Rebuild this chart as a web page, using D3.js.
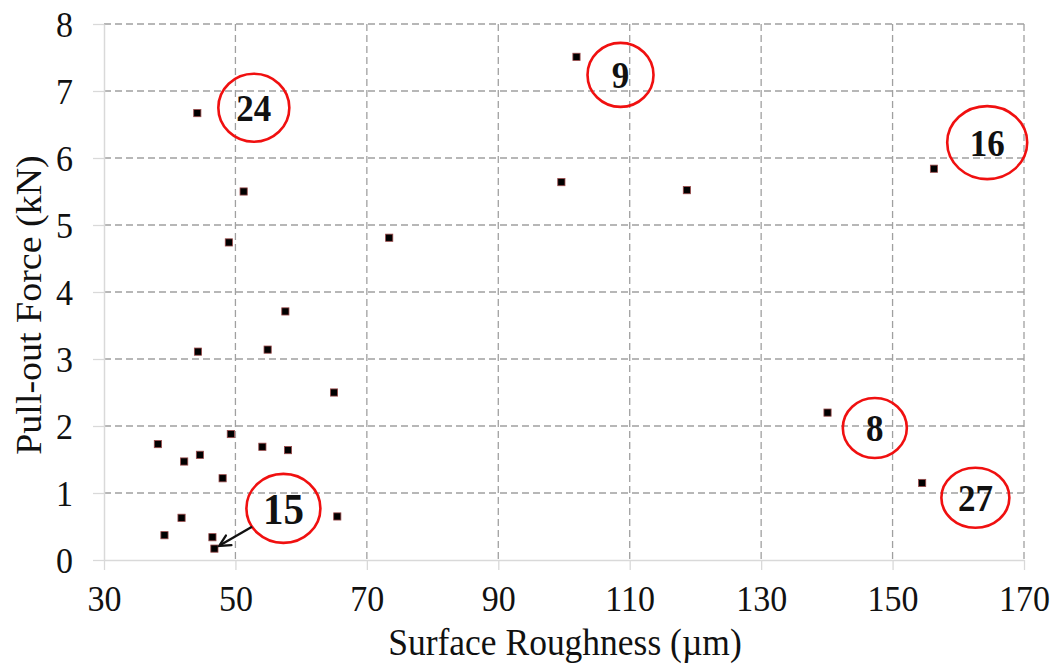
<!DOCTYPE html>
<html><head><meta charset="utf-8">
<script src="https://cdn.jsdelivr.net/npm/d3@7"></script>
<style>
html,body{margin:0;padding:0;background:#fff;}
svg text{font-family:"Liberation Serif","Times New Roman",serif;}
</style></head>
<body>
<svg id="chart" width="1055" height="665"></svg>
<script>
// ---- data ----
const roughness = [44.2, 51.25, 49.0, 101.9, 99.6, 118.7, 156.3, 73.4, 57.6, 44.3, 54.9, 65.0,
                   38.2, 42.2, 44.6, 49.3, 48.05, 54.1, 58.0, 65.5, 41.8, 39.2, 46.5, 46.8, 140.1, 154.5];
const force     = [6.67, 5.50, 4.74, 7.51, 5.64, 5.52, 5.84, 4.81, 3.71, 3.11, 3.14, 2.50,
                   1.73, 1.47, 1.57, 1.88, 1.22, 1.69, 1.64, 0.65, 0.63, 0.37, 0.34, 0.17, 2.20, 1.15];
const xTicks = [30, 50, 70, 90, 110, 130, 150, 170];
const yTicks = [0, 1, 2, 3, 4, 5, 6, 7, 8];
const labelText = ["24", "9", "16", "8", "27", "15"];
const labelX    = [52.8, 108.6, 164.4, 147.3, 162.6, 57.3];
const labelY    = [6.75, 7.24, 6.23, 1.97, 0.93, 0.77];
const arrowFrom = ["15"];          // annotation with an arrow
const arrowToX  = [46.8];
const arrowToY  = [0.17];
const xTitle = "Surface Roughness (\u00b5m)";
const yTitle = "Pull-out Force (kN)";

// ---- layout ----
const svg = d3.select("#chart");
const L = 104, R = 1024, T = 24, B = 560;
const SY = 1.07; // vertical stretch of the lettering
const x = d3.scaleLinear().domain([30, 170]).range([L, R]);
const y = d3.scaleLinear().domain([0, 8]).range([B, T]);

// gridlines
const grid = svg.append("g");
grid.selectAll("line.h").data(yTicks.filter(d => d > 0)).join("line")
  .attr("x1", L).attr("x2", R).attr("y1", d => y(d)).attr("y2", d => y(d))
  .attr("stroke", "#a0a0a0").attr("stroke-width", 1.3).attr("stroke-dasharray", "7,4");
grid.selectAll("line.v").data(xTicks.filter(d => d > 30)).join("line")
  .attr("y1", T).attr("y2", B).attr("x1", d => x(d)).attr("x2", d => x(d))
  .attr("stroke", "#a0a0a0").attr("stroke-width", 1.3).attr("stroke-dasharray", "7,4");

// axes
const xAxis = svg.append("g").attr("transform", `translate(0,${B})`)
  .call(d3.axisBottom(x).tickValues(xTicks).tickSize(10).tickPadding(14).tickSizeOuter(0));
const yAxis = svg.append("g").attr("transform", `translate(${L},0)`)
  .call(d3.axisLeft(y).tickValues(yTicks).tickSize(11).tickPadding(20).tickSizeOuter(0));
[xAxis, yAxis].forEach(a => {
  a.select(".domain").attr("stroke", "#d9d9d9").attr("stroke-width", 1.5);
  a.selectAll(".tick line").attr("stroke", "#d9d9d9").attr("stroke-width", 1.3);
  a.selectAll(".tick text").attr("fill", "#111").style("font-size", "34px")
    .attr("font-family", "Liberation Serif").attr("transform", `scale(1,${SY})`);
});
xAxis.selectAll(".tick text").attr("y", 22).attr("dy", "0.75em");
yAxis.selectAll(".tick text").attr("dy", "0.33em");

// axis titles
svg.append("text").attr("transform", `translate(${(L + R) / 2 + 1},655) scale(1,${SY})`)
  .attr("text-anchor", "middle").attr("fill", "#111").style("font-size", "35.5px").text(xTitle);
svg.append("text").attr("transform", `translate(41,${(T + B) / 2 + 13}) rotate(-90) scale(${SY},1)`)
  .attr("text-anchor", "middle").attr("fill", "#111").style("font-size", "35.5px").text(yTitle);

// points
const pts = roughness.map((r, i) => ({x: r, y: force[i]}));
svg.append("g").selectAll("rect").data(pts).join("rect")
  .attr("x", d => x(d.x) - 3.6).attr("y", d => y(d.y) - 3.6)
  .attr("width", 7.2).attr("height", 7.2)
  .attr("fill", "#000").attr("stroke", "#9b4a4a").attr("stroke-width", 0.8);

// annotations
const radius = {"24": [35.5, 34], "9": [33, 32], "16": [40, 36.5], "8": [32, 30], "27": [34, 30], "15": [37, 34.5]};
const fsize  = {"15": 41};
const ann = labelText.map((t, i) => ({t, x: labelX[i], y: labelY[i]}));
const ag = svg.append("g");
ann.forEach(a => {
  const [rx, ry] = radius[a.t];
  ag.append("ellipse").attr("cx", x(a.x)).attr("cy", y(a.y)).attr("rx", rx).attr("ry", ry)
    .attr("fill", "none").attr("stroke", "#f01010").attr("stroke-width", 2.6);
  ag.append("text").attr("transform", `translate(${x(a.x)},${y(a.y)}) scale(1,${SY})`)
    .attr("dy", "0.35em")
    .attr("text-anchor", "middle").attr("font-weight", "bold").attr("fill", "#111")
    .style("font-size", (fsize[a.t] || 35) + "px").text(a.t);
});

// arrow (open V head)
arrowFrom.forEach((t, i) => {
  const a = ann.find(d => d.t === t);
  const [rx, ry] = radius[t];
  const cx = x(a.x), cy = y(a.y), tx = x(arrowToX[i]), ty = y(arrowToY[i]);
  const dx = tx - cx, dy = ty - cy, len = Math.hypot(dx, dy);
  const ux = dx / len, uy = dy / len;
  const k = 1 / Math.sqrt((dx * dx) / (rx * rx) + (dy * dy) / (ry * ry));
  const sx = cx + dx * k, sy = cy + dy * k;
  const ex = tx - ux * 5.5, ey = ty - uy * 5.5;
  svg.append("line").attr("x1", sx).attr("y1", sy).attr("x2", ex - ux * 1).attr("y2", ey - uy * 1)
    .attr("stroke", "#111").attr("stroke-width", 2.3);
  const hl = 11, hw = 5.5, px = -uy, py = ux;
  const bx = ex - ux * hl, by = ey - uy * hl;
  svg.append("path")
    .attr("d", `M${bx + px * hw},${by + py * hw} L${ex},${ey} L${bx - px * hw},${by - py * hw}`)
    .attr("fill", "none").attr("stroke", "#111").attr("stroke-width", 2.3)
    .attr("stroke-linejoin", "miter").attr("stroke-linecap", "round");
});
</script>
</body></html>
